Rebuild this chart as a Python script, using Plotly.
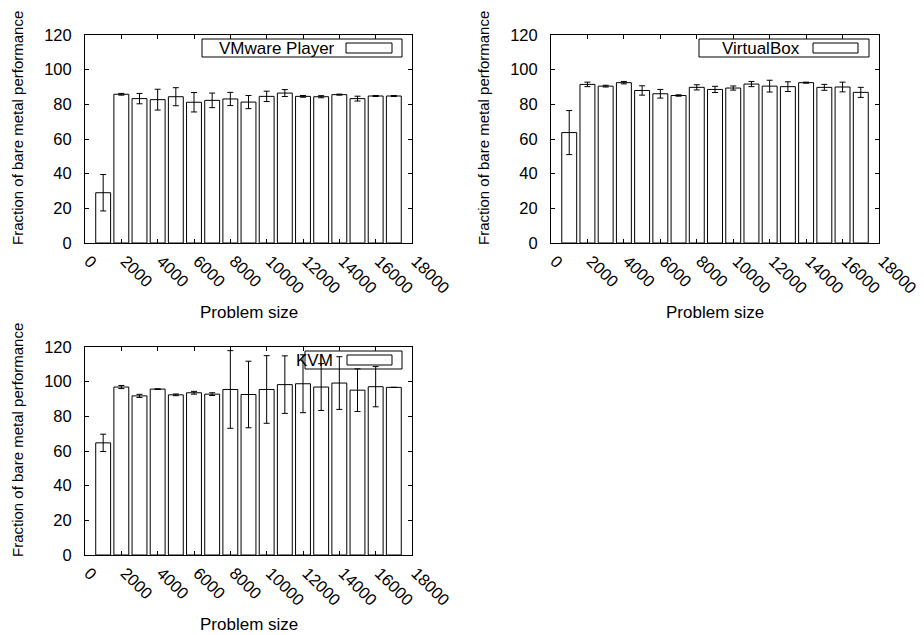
import plotly.graph_objects as go

# ---- data ----
problem_sizes = [1000, 2000, 3000, 4000, 5000, 6000, 7000, 8000, 9000,
                 10000, 11000, 12000, 13000, 14000, 15000, 16000, 17000]
x_tick_values = [0, 2000, 4000, 6000, 8000, 10000, 12000, 14000, 16000, 18000]
y_tick_values = [0, 20, 40, 60, 80, 100, 120]

vmware = [29.0, 85.8, 83.3, 82.7, 84.4, 81.2, 82.3, 83.1, 81.3, 84.6, 86.5, 84.6, 84.4, 85.6, 83.3, 84.8, 84.8]
vmware_err = [10.5, 0.5, 3.0, 6.0, 5.2, 5.6, 4.2, 3.8, 3.8, 3.0, 2.0, 0.5, 0.6, 0.3, 1.4, 0.3, 0.3]

vbox = [63.7, 91.5, 90.5, 92.5, 88.0, 86.1, 85.1, 89.8, 88.6, 89.4, 91.7, 90.5, 90.2, 92.5, 89.8, 90.0, 86.9]
vbox_err = [12.7, 1.3, 0.5, 0.7, 2.7, 2.5, 0.4, 1.5, 1.8, 1.2, 1.5, 3.4, 2.8, 0.3, 1.7, 2.8, 2.9]

kvm = [64.7, 96.9, 91.8, 95.7, 92.4, 93.6, 92.8, 95.5, 92.6, 95.5, 98.3, 98.8, 96.9, 99.2, 95.1, 97.1, 96.7]
kvm_err = [5.0, 0.9, 0.9, 0.2, 0.5, 0.8, 0.8, 22.4, 19.2, 19.5, 16.6, 16.7, 13.5, 15.2, 12.3, 11.6, 0.0]

series_names = ["VMware Player", "VirtualBox", "KVM"]
x_title = "Problem size"
y_title = "Fraction of bare metal performance"

FONT = "Liberation Sans, Arial, Helvetica, sans-serif"
W, H = 924, 635
OFF = 8  # page body margin offset

fig = go.Figure()

panels = [
    (vmware, vmware_err, "x", "y"),
    (vbox, vbox_err, "x2", "y2"),
    (kvm, kvm_err, "x3", "y3"),
]
for (vals, errs, xa, ya), name in zip(panels, series_names):
    fig.add_trace(go.Bar(
        x=problem_sizes, y=vals, name=name, xaxis=xa, yaxis=ya,
        width=820,
        marker=dict(color="white", line=dict(color="black", width=1)),
        error_y=dict(type="data", array=errs, symmetric=True,
                     color="black", thickness=1, width=3),
        showlegend=False,
    ))

# panel geometry in screen pixels (left, right, top, bottom)
geo = [(85, 412, 35, 243), (551, 879, 35, 243), (85, 412, 347, 555)]

def px(v):
    return (v - OFF) / W

def py(v):
    return 1 - (v - OFF) / H

axis_common = dict(
    showline=True, linecolor="black", linewidth=1, mirror="ticks",
    ticks="inside", ticklen=4, tickcolor="black", tickwidth=1,
    showgrid=False, zeroline=False, automargin=False,
    tickfont=dict(family=FONT, size=16.5, color="black"),
)

layout_axes = {}
for i, (l, r, t, b) in enumerate(geo):
    sfx = "" if i == 0 else str(i + 1)
    layout_axes["xaxis" + sfx] = dict(
        axis_common, domain=[px(l), px(r)], range=[0, 18000],
        tickmode="array", tickvals=x_tick_values,
        ticktext=[str(v) for v in x_tick_values],
        tickangle=45, anchor="y" + sfx,
        ticklabelstandoff=1, ticklabelshift=4,
    )
    layout_axes["yaxis" + sfx] = dict(
        axis_common, domain=[py(b), py(t)], range=[0, 120],
        tickmode="array", tickvals=y_tick_values,
        anchor="x" + sfx, ticklabelstandoff=9,
    )

shapes = []
annotations = []

# legend geometry (pixel offsets inside each panel)
legend_geo = [
    (117, 317, 261, 307, 252),
    (148, 318, 262, 307, 251),
    (220, 317, 262, 307, 250),
]
for i, ((l, r, t, b), (bx0, bx1, sx0, sx1, tx), name) in enumerate(zip(geo, legend_geo, series_names)):
    sfx = "" if i == 0 else str(i + 1)
    pw, ph = r - l, b - t
    xr, yr = "x" + sfx + " domain", "y" + sfx + " domain"
    fx = lambda p: p / pw
    fy = lambda p: 1 - p / ph
    shapes.append(dict(type="rect", xref=xr, yref=yr,
                       x0=fx(bx0), x1=fx(bx1), y0=fy(22), y1=fy(4),
                       line=dict(color="black", width=1), fillcolor="rgba(0,0,0,0)"))
    shapes.append(dict(type="rect", xref=xr, yref=yr,
                       x0=fx(sx0), x1=fx(sx1), y0=fy(18), y1=fy(8),
                       line=dict(color="black", width=1), fillcolor="white"))
    annotations.append(dict(text=name, xref=xr, yref=yr, x=fx(tx), y=fy(13),
                            xanchor="right", yanchor="middle", showarrow=False,
                            font=dict(family=FONT, size=17, color="black")))
    # axis titles
    annotations.append(dict(text=x_title, xref="paper", yref="paper",
                            x=px((l + r) / 2), y=py(b + 69),
                            xanchor="center", yanchor="middle", showarrow=False,
                            font=dict(family=FONT, size=17, color="black")))
    annotations.append(dict(text=y_title, xref="paper", yref="paper",
                            x=px(l - 68), y=py((t + b) / 2 - 11),
                            xanchor="center", yanchor="middle", showarrow=False,
                            textangle=-90, borderpad=0,
                            font=dict(family=FONT, size=15, color="black")))

fig.update_layout(
    width=W, height=H,
    margin=dict(l=0, r=0, t=0, b=0, autoexpand=False),
    paper_bgcolor="white", plot_bgcolor="white",
    font=dict(family=FONT, size=17, color="black"),
    shapes=shapes, annotations=annotations,
    showlegend=False,
    **layout_axes,
)

fig.write_html("out.html")
